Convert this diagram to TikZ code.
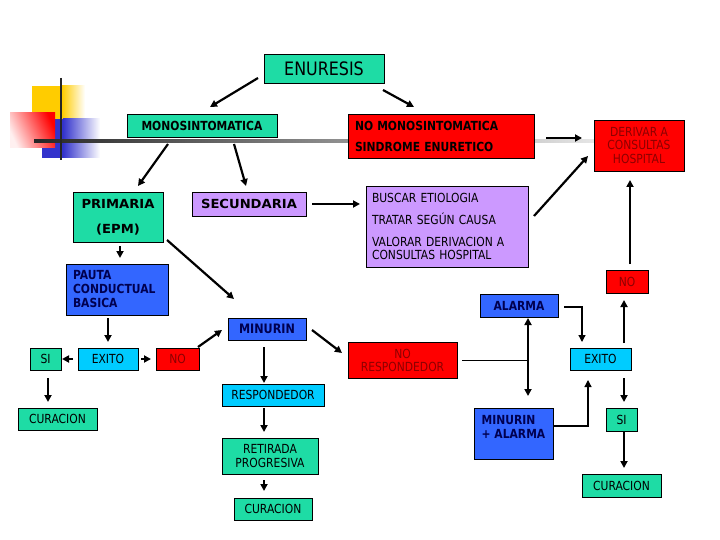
\documentclass[tikz,border=0pt]{standalone}
\usepackage{fontspec}
\setmainfont{DejaVu Sans}[FakeStretch=0.86]
\newfontfamily\widefont{DejaVu Sans}[FakeStretch=1.05]
\usetikzlibrary{arrows.meta,calc}
\definecolor{tealbox}{RGB}{30,220,165}
\definecolor{redbox}{RGB}{255,0,0}
\definecolor{purpbox}{RGB}{204,153,255}
\definecolor{bluebox}{RGB}{51,102,255}
\definecolor{cyanbox}{RGB}{0,204,255}
\definecolor{navytxt}{RGB}{0,0,80}
\definecolor{dredtxt}{RGB}{140,0,0}
\definecolor{decoyel}{RGB}{255,204,0}
\definecolor{decoblu}{RGB}{51,51,204}
\tikzset{
  bx/.style={draw=black, line width=0.7pt, inner sep=0pt, outer sep=0pt,
    font=\fontsize{12.5}{13.5}\selectfont, align=center},
  wh/.style n args={2}{minimum width=#1pt, minimum height=#2pt},
  tealb/.style={bx, fill=tealbox},
  redb/.style={bx, fill=redbox},
  redd/.style={bx, fill=redbox, text=dredtxt},
  purpb/.style={bx, fill=purpbox},
  bluebx/.style={bx, fill=bluebox, text=navytxt, font=\bfseries\fontsize{12.5}{14}\selectfont},
  cyanb/.style={bx, fill=cyanbox},
  arr/.style={line width=2.2pt, -{Triangle[length=7pt,width=7pt]}},
  darr/.style={line width=2.2pt, {Triangle[length=7pt,width=7pt]}-{Triangle[length=7pt,width=7pt]}},
  elb/.style={line width=1.3pt, -{Triangle[length=7pt,width=7pt]}},
  thinl/.style={line width=0.9pt},
}
\begin{document}
\begin{tikzpicture}[x=1pt,y=-1pt]
\fill[white] (0,0) rectangle (720,540);
\useasboundingbox (0,0) rectangle (720,540);
% decoration
\fill[decoyel] (32,86) rectangle (62,119);
\shade[left color=decoyel, right color=white] (62,86) rectangle (85,119);
\fill[decoblu] (42,119) rectangle (63,158);
\shade[left color=decoblu, right color=white] (63,119) rectangle (100,158);
\shade[left color=red!6, right color=red, shading angle=115] (10,113) rectangle (55,148);
\shade[left color=black!85, middle color=black!45, right color=black!10] (34,139.8) rectangle (594,142.3);
\draw[line width=2.5pt, black!85] (61,78) -- (61,160);
% boxes
\node[tealb, wh={120}{29}, font=\fontsize{18.5}{20}\selectfont] (enu) at (324,68.5) {ENURESIS};
\node[tealb, wh={150}{23}, font=\bfseries\fontsize{12.5}{13.5}\selectfont] (mono) at (202,125.5) {MONOSINTOMATICA};
\node[redb, wh={186}{44}, font=\bfseries\fontsize{12.5}{13.5}\selectfont, text width=172pt, inner xsep=7pt, align=left] (nomono) at (441,136) {NO MONOSINTOMATICA\\[7.5pt]SINDROME ENURETICO};
\node[redd, wh={90}{51}] (deriv) at (639,145.5) {DERIVAR A\\CONSULTAS\\HOSPITAL};
\node[tealb, wh={90}{50}, font=\widefont\bfseries\fontsize{12.5}{14}\selectfont] (prim) at (118,217) {PRIMARIA\\[11pt](EPM)};
\node[purpb, wh={114}{24}, font=\widefont\bfseries\fontsize{12.5}{14}\selectfont] (secu) at (249,204) {SECUNDARIA};
\node[purpb, wh={162}{81}, text width=150pt, inner xsep=6pt, align=left] (busc) at (447,226.5) {BUSCAR ETIOLOGIA\\[8.5pt]TRATAR SEGÚN CAUSA\\[8.5pt]VALORAR DERIVACION A\\CONSULTAS HOSPITAL};
\node[bluebx, wh={102}{51}, text width=88pt, inner xsep=7pt, align=left] (pauta) at (117,289.5) {PAUTA\\CONDUCTUAL\\BASICA};
\node[redd, wh={42}{23}] (noR) at (627,281.5) {NO};
\node[bluebx, wh={78}{23}] (alarma) at (519,305.5) {ALARMA};
\node[bluebx, wh={78}{22}, font=\bfseries\fontsize{13}{14}\selectfont] (minurin) at (267,329) {MINURIN};
\node[tealb, wh={31}{22}] (siL) at (45.5,359) {SI};
\node[cyanb, wh={60}{22}] (exL) at (108,359) {EXITO};
\node[redd, wh={43}{22}] (noL) at (177.5,359) {NO};
\node[redd, wh={109}{36}, font=\fontsize{12.5}{13}\selectfont] (noresp) at (402.5,360) {NO\\RESPONDEDOR};
\node[cyanb, wh={61}{22}] (exR) at (600.5,359) {EXITO};
\node[cyanb, wh={102}{22}] (resp) at (273,395) {RESPONDEDOR};
\node[tealb, wh={79}{22}] (curL) at (57.5,419) {CURACION};
\node[bluebx, wh={79}{51}, align=left] (minal) at (513.5,433.5) {MINURIN\\+ ALARMA\\\phantom{X}};
\node[tealb, wh={31}{23}] (siR) at (621.5,419.5) {SI};
\node[tealb, wh={96}{36}, font=\fontsize{12.5}{14}\selectfont] (retir) at (270,456) {RETIRADA\\PROGRESIVA};
\node[tealb, wh={79}{23}] (curR) at (621.5,485.5) {CURACION};
\node[tealb, wh={78}{22}] (curB) at (273,509) {CURACION};
\coordinate (jn) at (528,360);
% arrows
\draw[arr] ($(enu.south west)+(-6,-5)$) -- ($(mono.north)+(8,-7)$);
\draw[arr] ($(enu.south east)+(-1,7)$) -- ($(nomono.north west)+(66,-7)$);
\draw[arr] ($(mono.south)+(-34,7)$) -- ($(prim.north)+(20,-6)$);
\draw[arr] ($(mono.south)+(32,7)$) -- ($(secu.north)+(-3,-6)$);
\draw[arr] ($(secu.east)+(6,0)$) -- ($(busc.north west)+(-6,18)$);
\draw[arr] ($(nomono.east)+(12,2)$) -- ($(deriv.west)+(-12,-7.5)$);
\draw[arr] ($(busc.north east)+(6,30)$) -- ($(deriv.south west)+(-6,-15)$);
\draw[arr] ($(noR.north)+(3,-6)$) -- ($(deriv.south)+(-9,9)$);
\draw[arr] ($(prim.south)+(2,4)$) -- ($(pauta.north)+(3,-6)$);
\draw[arr] ($(prim.south east)+(4,-2)$) -- ($(minurin.north)+(-33,-19)$);
\draw[arr] ($(pauta.south)+(-9,3)$) -- ($(exL.north)+(0,-6)$);
\draw[arr] ($(exL.west)+(-5,0)$) -- ($(siL.east)+(1,0)$);
\draw[arr] ($(exL.east)+(3,0)$) -- ($(noL.west)+(-5,0)$);
\draw[arr] ($(noL.north east)+(-1,-1)$) -- ($(minurin.west)+(-6,1)$);
\draw[arr] ($(siL.south)+(2.5,8)$) -- ($(curL.north)+(-9.5,-6)$);
\draw[arr] ($(minurin.east)+(6,1)$) -- ($(noresp.west)+(-6,-7)$);
\draw[arr] ($(minurin.south)+(-3,7)$) -- ($(resp.north)+(-9,-1)$);
\draw[arr] ($(resp.south)+(-9,2)$) -- ($(retir.north)+(-6,-6)$);
\draw[arr] ($(retir.south)+(-6,6)$) -- ($(curB.north)+(-9,-7)$);
\draw[thinl] ($(noresp.east)+(5,0)$) -- (jn);
\draw[darr] ($(alarma.south)+(9,1)$) -- ($(minal.north)+(14.5,-12)$);
\draw[elb] ($(alarma.east)+(6,1.5)$) -| ($(exR.north west)+(12,-6)$);
\draw[elb] ($(minal.east)+(0,-7.5)$) -| ($(exR.south)+(-12.5,10)$);
\draw[arr] ($(exR.north)+(23.5,-5)$) -- ($(noR.south)+(-3,7)$);
\draw[arr] ($(exR.south)+(23.5,8)$) -- ($(siR.north)+(2.5,-6)$);
\draw[arr] ($(siR.south)+(2.5,1)$) -- ($(curR.north)+(2.5,-6)$);
\end{tikzpicture}
\end{document}
